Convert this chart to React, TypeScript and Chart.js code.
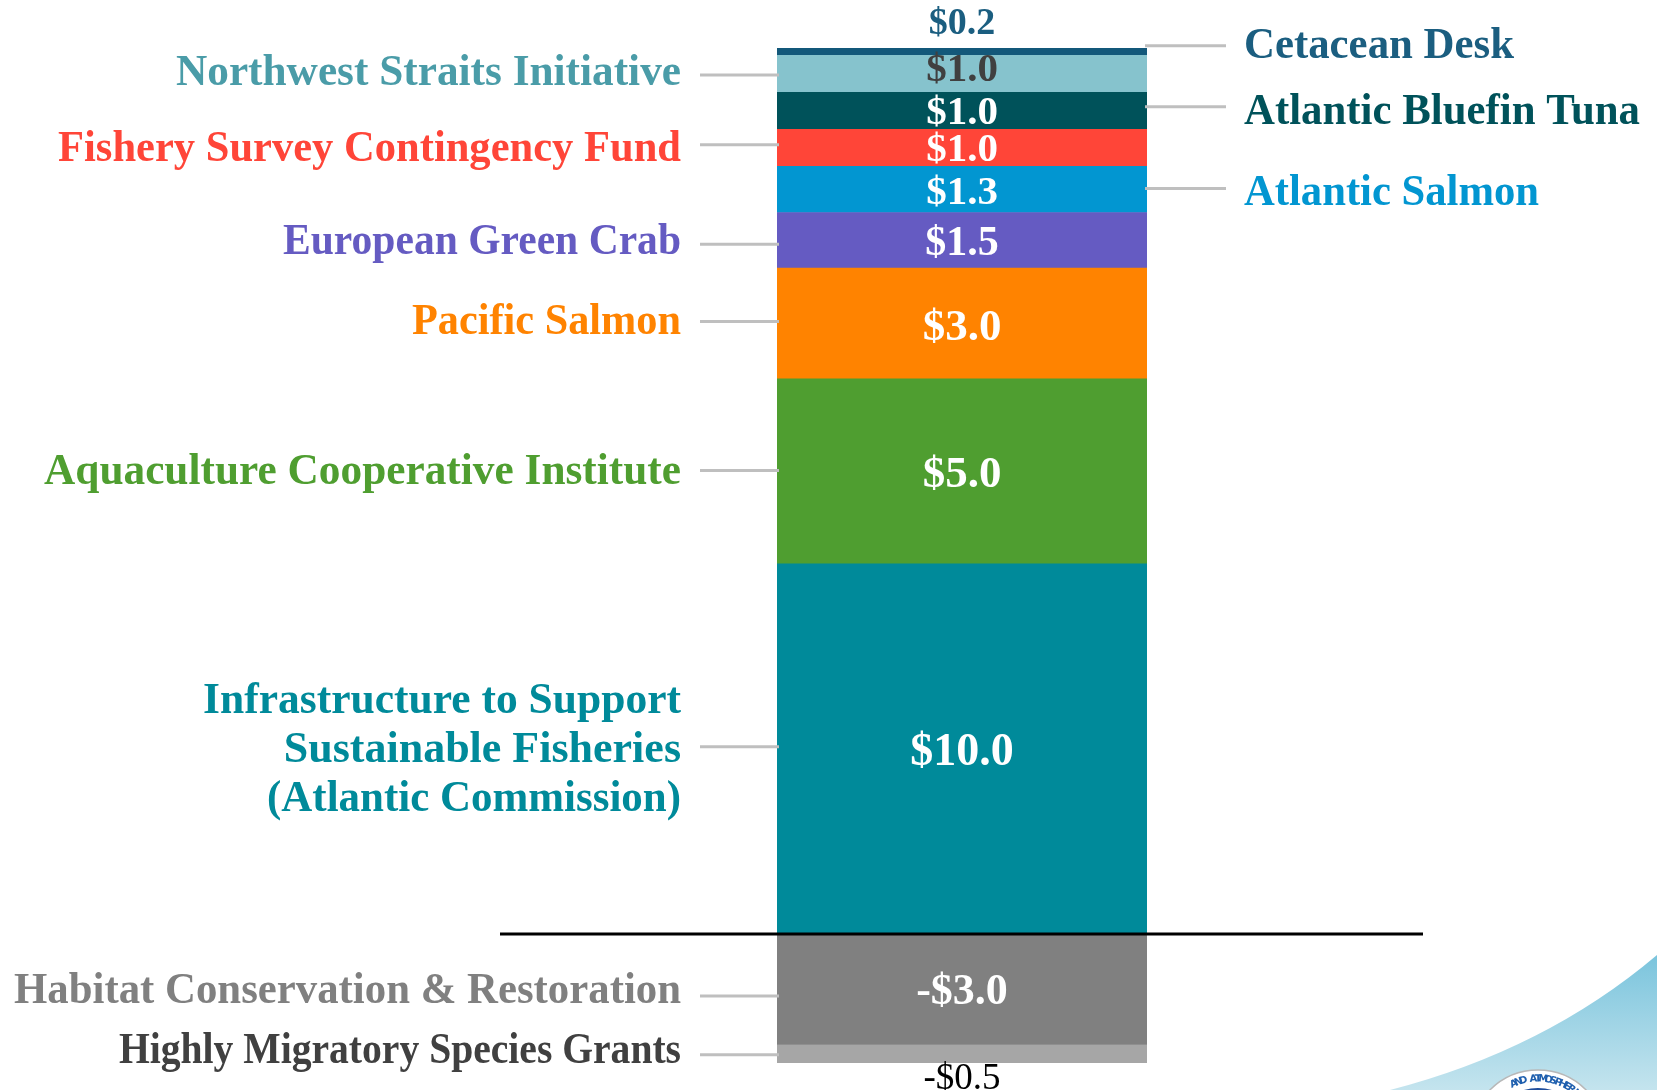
import React, { useEffect, useRef } from "react";
import { Chart, registerables } from "chart.js";

Chart.register(...registerables);

// ---- data (stacked from zero outward) ----
const categories = ["FY Change"];
const programNames: string[][] = [
  ["Infrastructure to Support", "Sustainable Fisheries", "(Atlantic Commission)"],
  ["Aquaculture Cooperative Institute"],
  ["Pacific Salmon"],
  ["European Green Crab"],
  ["Atlantic Salmon"],
  ["Fishery Survey Contingency Fund"],
  ["Atlantic Bluefin Tuna"],
  ["Northwest Straits Initiative"],
  ["Cetacean Desk"],
  ["Habitat Conservation & Restoration"],
  ["Highly Migratory Species Grants"],
];
const programValues = [10.0, 5.0, 3.0, 1.5, 1.25, 1.0, 1.0, 1.0, 0.2, -3.0, -0.5];

// ---- styling ----
const barColors = ["#008A9A", "#4F9E30", "#FF8300", "#655BC2", "#0296D1", "#FF4538", "#00525A", "#86C3CD", "#13587A", "#808080", "#A6A6A6"];
const nameColors = ["#008A9A", "#4F9E30", "#FF8300", "#655BC2", "#0296D1", "#FF4538", "#00525A", "#4A9CA8", "#1B5E80", "#808080", "#404040"];
const valueColors = ["#FFFFFF", "#FFFFFF", "#FFFFFF", "#FFFFFF", "#FFFFFF", "#FFFFFF", "#FFFFFF", "#404040", "#1B5E80", "#FFFFFF", "#000000"];
const valuePlacement = ["inside", "inside", "inside", "inside", "inside", "inside", "inside", "inside", "above", "inside", "below"];
const valueFontSize = [46, 45, 45, 42, 41, 41, 41, 41, 38, 44, 37];
const valueBold = [true, true, true, true, true, true, true, true, true, true, false];
const valueDy = [3, 3, 4, 3, 3, 2, 2, -4, 0, 3, 0];
const nameSide = ["left", "left", "left", "left", "right", "left", "right", "left", "right", "left", "left"];
const nameDy = [2, 1, -1, 2, 4, 2, 2, 0, -5, 3, -2];
const lineDy = [-2, -1, -2, 4, -1, -3, -4, 1, -6, 7, 1];
// widths (px) the names occupy in the original slide
const nameMaxWidth: number[][] = [[478, 399, 414], [637], [269], [398], [295], [623], [396], [505], [270], [667], [562]];

const fmt = (v: number) => (v < 0 ? "-" : "") + "$" + Math.abs(v).toFixed(1);

const SERIF = "'Liberation Serif', 'Times New Roman', serif";

const annotatePlugin = {
  id: "annotate",
  beforeDraw(chart: any) {
    const ctx = chart.ctx as CanvasRenderingContext2D;
    const W = chart.width, H = chart.height;
    ctx.save();
    ctx.fillStyle = "#FFFFFF";
    ctx.fillRect(0, 0, W, H);
    // decorative swoosh bottom-right
    const g = ctx.createLinearGradient(0, 950, 0, H);
    g.addColorStop(0, "#78C3DC");
    g.addColorStop(1, "#C4E4EE");
    ctx.beginPath();
    ctx.moveTo(W, 955);
    ctx.quadraticCurveTo(1545, 1050, 1390, H);
    ctx.lineTo(W, H);
    ctx.closePath();
    ctx.fillStyle = g;
    ctx.fill();
    // logo seal
    const cx = 1538, cy = 1138, r = 68;
    ctx.beginPath();
    ctx.arc(cx, cy, r, 0, Math.PI * 2);
    ctx.fillStyle = "#FFFFFF";
    ctx.fill();
    ctx.lineWidth = 1.5;
    ctx.strokeStyle = "#B8B8B8";
    ctx.stroke();
    ctx.beginPath();
    ctx.arc(cx, cy, r - 18, 0, Math.PI * 2);
    ctx.fillStyle = "#1F4E9C";
    ctx.fill();
    const seal = "AND ATMOSPHERIC";
    ctx.fillStyle = "#1F5FAE";
    ctx.font = "bold 10px 'DejaVu Sans', sans-serif";
    ctx.textAlign = "center";
    ctx.textBaseline = "middle";
    const step = 0.085;
    const start = -Math.PI / 2 - 0.42;
    for (let i = 0; i < seal.length; i++) {
      const a = start + i * step;
      ctx.save();
      ctx.translate(cx + Math.cos(a) * (r - 9), cy + Math.sin(a) * (r - 9));
      ctx.rotate(a + Math.PI / 2);
      ctx.fillText(seal[i], 0, 0);
      ctx.restore();
    }
    ctx.restore();
  },
  afterDatasetsDraw(chart: any) {
    const ctx = chart.ctx as CanvasRenderingContext2D;
    const yScale = chart.scales.y;
    const area = chart.chartArea;
    ctx.save();
    chart.data.datasets.forEach((ds: any, i: number) => {
      const el = chart.getDatasetMeta(i).data[0];
      if (!el) return;
      const top = Math.min(el.y, el.base);
      const bot = Math.max(el.y, el.base);
      const mid = (top + bot) / 2;
      const v = ds.data[0] as number;
      // value label
      let vy = mid;
      if (valuePlacement[i] === "above") vy = top - 25;
      if (valuePlacement[i] === "below") vy = bot + 15;
      ctx.font = `${valueBold[i] ? "bold " : ""}${valueFontSize[i]}px ${SERIF}`;
      ctx.fillStyle = valueColors[i];
      ctx.textAlign = "center";
      ctx.textBaseline = "middle";
      ctx.fillText(fmt(v), el.x, vy + 1 + valueDy[i]);
      // connector
      const ly = mid + lineDy[i];
      ctx.strokeStyle = "#BFBFBF";
      ctx.lineWidth = 3;
      ctx.beginPath();
      if (nameSide[i] === "left") {
        ctx.moveTo(700, ly);
        ctx.lineTo(area.left + 2, ly);
      } else {
        ctx.moveTo(area.right - 2, ly);
        ctx.lineTo(1226, ly);
      }
      ctx.stroke();
      // program name
      const lines = programNames[i];
      ctx.font = `bold 44px ${SERIF}`;
      ctx.fillStyle = nameColors[i];
      ctx.textAlign = nameSide[i] === "left" ? "right" : "left";
      const lh = 49;
      const ty0 = mid + nameDy[i] - ((lines.length - 1) * lh) / 2;
      lines.forEach((t, k) => {
        ctx.fillText(t, nameSide[i] === "left" ? 681 : 1244, ty0 + k * lh, nameMaxWidth[i][k]);
      });
    });
    // zero line
    const y0 = Math.round(yScale.getPixelForValue(0));
    ctx.strokeStyle = "#000000";
    ctx.lineWidth = 3;
    ctx.beginPath();
    ctx.moveTo(500, y0);
    ctx.lineTo(1423, y0);
    ctx.stroke();
    ctx.restore();
  },
};

export default function App() {
  const ref = useRef<HTMLCanvasElement | null>(null);
  useEffect(() => {
    if (!ref.current) return;
    const posSum = programValues.filter((v) => v > 0).reduce((a, b) => a + b, 0);
    const negSum = programValues.filter((v) => v < 0).reduce((a, b) => a + b, 0);
    const chart = new Chart(ref.current, {
      type: "bar",
      data: {
        labels: categories,
        datasets: programValues.map((v, i) => ({
          label: programNames[i].join(" "),
          data: [v],
          backgroundColor: barColors[i],
          borderWidth: 0,
          categoryPercentage: 1,
          barPercentage: 1,
        })),
      },
      options: {
        responsive: false,
        animation: false,
        layout: { padding: { left: 777, right: 510, top: 48, bottom: 27 } },
        plugins: { legend: { display: false }, tooltip: { enabled: false } },
        scales: {
          x: { stacked: true, display: false },
          y: { stacked: true, display: false, min: negSum, max: posSum },
        },
      },
      plugins: [annotatePlugin],
    });
    return () => chart.destroy();
  }, []);
  return (
    <div style={{ position: "absolute", left: 0, top: 0, width: 1657, height: 1090, background: "#fff" }}>
      <canvas ref={ref} width={1657} height={1090} />
    </div>
  );
}
